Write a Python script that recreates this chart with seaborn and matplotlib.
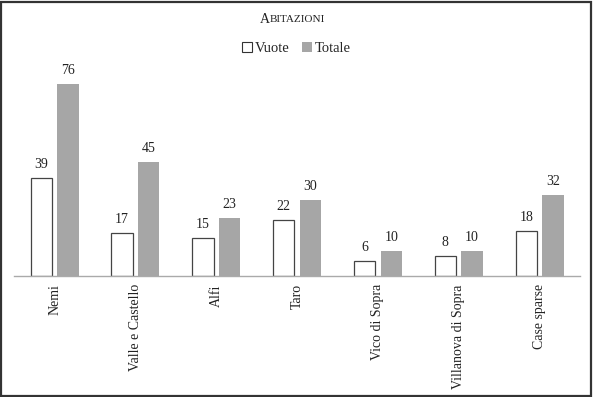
import numpy as np
import pandas as pd
import seaborn as sns
import matplotlib
matplotlib.use("Agg")
from matplotlib import pyplot as plt
from matplotlib.patches import Rectangle

# dati
localita = ["Nemi", "Valle e Castello", "Alfi", "Taro", "Vico di Sopra",
            "Villanova di Sopra", "Case sparse"]
vuote = [39, 17, 15, 22, 6, 8, 18]
totale = [76, 45, 23, 30, 10, 10, 32]
serie = ["Vuote", "Totale"]

df = pd.DataFrame({
    "localita": localita * 2,
    "valore": vuote + totale,
    "serie": ["Vuote"] * len(localita) + ["Totale"] * len(localita),
})

sns.set_style("white")
plt.rcParams["font.family"] = ["Liberation Serif", "DejaVu Serif"]

fig = plt.figure(figsize=(5.93, 3.97), dpi=100)
ax = fig.add_axes([0.024, 0.305, 0.954, 0.54])

sns.barplot(data=df, x="localita", y="valore", hue="serie", hue_order=serie,
            palette={"Vuote": "white", "Totale": "#a6a6a6"},
            width=0.66, gap=0.2, ax=ax, legend=False)

# bordo barre
for bar in ax.containers[0]:
    bar.set_edgecolor("#444444")
    bar.set_linewidth(0.9)
for bar in ax.containers[1]:
    bar.set_edgecolor("#a6a6a6")
    bar.set_linewidth(0)

for c in ax.containers:
    ax.bar_label(c, padding=5, fontsize=10, color="#222222")

ax.set_ylim(0, 85)
ax.set_xlim(-0.5, len(localita) - 0.5)
ax.set_xlabel("")
ax.set_ylabel("")
ax.set_yticks([])
ax.tick_params(axis="x", length=0, pad=6, labelsize=10, labelcolor="#222222")
plt.setp(ax.get_xticklabels(), rotation=90, va="top")
for s in ["top", "left", "right"]:
    ax.spines[s].set_visible(False)
ax.spines["bottom"].set_color("#aaaaaa")
ax.spines["bottom"].set_linewidth(1)

# titolo in maiuscoletto
fig.text(0.4545, 0.952, "A", ha="right", va="center", fontsize=10, color="#222222")
fig.text(0.4545, 0.950, "BITAZIONI", ha="left", va="center", fontsize=8, color="#222222")

# legenda
handles = [Rectangle((0, 0), 1, 1, facecolor="white", edgecolor="#333333", linewidth=0.8),
           Rectangle((0, 0), 1, 1, facecolor="#a6a6a6", edgecolor="none")]
fig.legend(handles, serie, loc="center", bbox_to_anchor=(0.5, 0.877), ncol=2,
           frameon=False, fontsize=10.5, handlelength=0.7, handleheight=0.7,
           handletextpad=0.2, columnspacing=0.8)

# cornice esterna
fig.patches.append(Rectangle((0.002, 0.003), 0.995, 0.993, transform=fig.transFigure,
                             fill=False, edgecolor="#333333", linewidth=1.6))

fig.savefig("out.png", dpi=100)
